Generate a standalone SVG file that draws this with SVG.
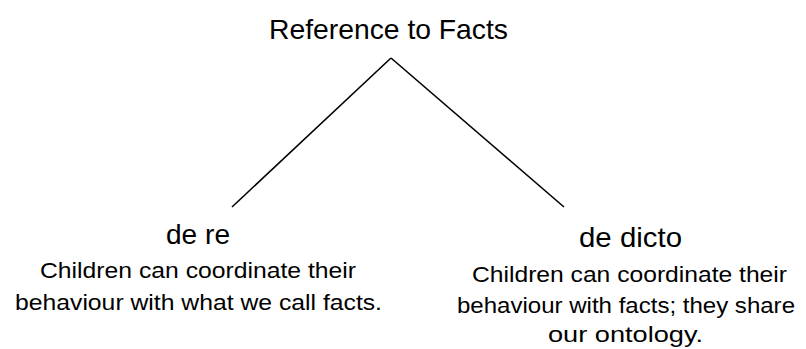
<svg xmlns="http://www.w3.org/2000/svg" width="806" height="349" viewBox="0 0 806 349">
<style>
text{font-family:"Liberation Sans",Arial,sans-serif;fill:#000;text-anchor:middle}
.t{font-size:28px}
.h{font-size:28px}
.b{font-size:22px}
.e{fill:none;stroke:#000;stroke-width:1.6}
</style>
<rect width="806" height="349" fill="#fff"/>
<g id="root"><text class="t" x="388.5" y="39" textLength="239" lengthAdjust="spacingAndGlyphs">Reference to Facts</text></g>
<g id="connectors">
<line class="e" x1="391" y1="58" x2="232" y2="207"/>
<line class="e" x1="391" y1="58" x2="564" y2="207"/>
</g>
<g id="dere">
<text class="h" x="198" y="244" textLength="64" lengthAdjust="spacingAndGlyphs">de re</text>
<text class="b" x="198" y="278" textLength="316" lengthAdjust="spacingAndGlyphs">Children can coordinate their</text>
<text class="b" x="198.5" y="310" textLength="367" lengthAdjust="spacingAndGlyphs">behaviour with what we call facts.</text>
</g>
<g id="dedicto">
<text class="h" x="630.5" y="247" textLength="103" lengthAdjust="spacingAndGlyphs">de dicto</text>
<text class="b" x="629.5" y="282" textLength="315" lengthAdjust="spacingAndGlyphs">Children can coordinate their</text>
<text class="b" x="626" y="313" textLength="338" lengthAdjust="spacingAndGlyphs">behaviour with facts; they share</text>
<text class="b" x="625.5" y="342" textLength="155" lengthAdjust="spacingAndGlyphs">our ontology.</text>
</g>
</svg>
